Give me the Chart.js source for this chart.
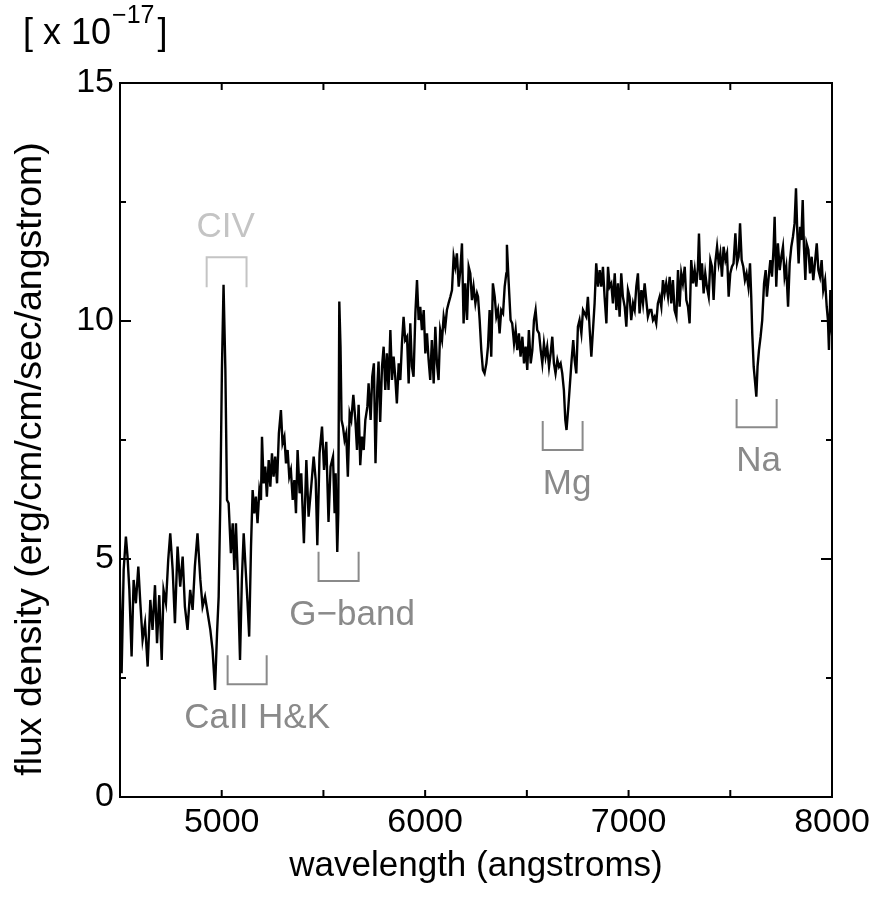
<!DOCTYPE html>
<html><head><meta charset="utf-8">
<script src="https://cdn.jsdelivr.net/npm/chart.js@4.4.0/dist/chart.umd.min.js"></script>
<style>html,body{margin:0;padding:0;background:#fff;}canvas{display:block;}</style>
</head><body>
<canvas id="c" width="878" height="903"></canvas>
<script>
// ---- data (wavelength in angstroms, flux density in 1e-17 erg/cm/cm/sec/angstrom) ----
const wavelengthBlue = [
 4496,4508,4518,4529,4537,4546,4557,4567,4578,4590,
 4600,4611,4623,4636,4649,4660,4672,4682,4693,4705,
 4714,4726,4737,4747,4759,4770,4783,4796,4808,4819,
 4832,4845,4857,4868,4881,4895,4906,4918,4931,4944,
 4955,4967,4977,4985,4993,5001,5009,5018,5026,5034,
 5045,5054,5062,5070,5078,5090,5099,5108,5116,5127,
 5135,5144,5152,5160,5168,5176,5185,5193,5198,5206,
 5214,5222,5231,5239,5247,5255,5263,5272,5281,5291,
 5299,5308,5316,5324,5332,5340,5349,5357,5365,5373];
const fluxBlue = [
 5.26,2.60,4.77,5.47,5.05,4.35,2.95,4.56,4.07,4.84,
 4.07,3.30,3.65,2.74,4.14,3.51,4.45,3.23,4.24,2.88,
 4.35,4.07,4.98,5.54,4.77,3.65,5.26,4.42,5.05,4.00,
 3.51,4.35,3.93,4.84,5.54,4.56,4.00,4.21,3.86,3.51,
 3.09,2.25,3.44,4.21,6.17,8.97,10.76,8.97,6.24,6.17,
 5.12,5.75,4.77,5.75,4.77,2.88,4.56,5.54,4.91,4.07,
 3.37,5.26,6.45,5.96,6.31,5.75,6.45,6.24,7.57,6.59,
 6.94,6.31,7.08,6.52,7.22,6.73,7.15,6.59,7.64,8.13,
 7.43,7.57,7.01,7.29,6.73,6.87,6.24,6.66,5.96,7.29];

const wavelengthGreen = [
 5383,5391,5404,5416,5427,5440,5452,5462,5470,5481,
 5493,5503,5514,5525,5535,5547,5555,5560,5568,5573,
 5578,5584,5589,5596,5604,5612,5620,5629,5637,5647,
 5657,5665,5673,5681,5689,5698,5706,5716,5722,5732,
 5740,5748,5756,5765,5771,5779,5788,5796,5804,5812,
 5820,5829,5837,5845,5853,5861,5870,5878,5886,5894,
 5902,5911,5919,5927,5935,5943,5952,5960,5968,5976,
 5984,5993,6001,6009,6017,6025,6033,6042,6050,6058,
 6066,6074,6083,6091,6099,6107,6115,6124,6132,6140,
 6148,6156,6165,6173,6181,6189,6197,6206,6214,6222,
 6230,6238,6247,6255];
const fluxGreen = [
 6.38,6.80,5.33,7.08,5.89,6.52,7.15,6.66,5.29,7.22,
 7.78,6.87,7.46,5.78,6.94,7.15,5.96,6.80,5.15,5.96,
 10.41,9.46,7.92,7.78,7.50,7.64,6.73,8.06,7.92,8.45,
 7.92,7.29,8.24,6.97,7.57,7.29,7.92,8.20,8.69,7.92,
 8.83,9.11,7.01,8.62,9.15,7.88,9.04,9.46,8.55,9.32,
 8.55,9.81,8.76,9.25,8.83,8.27,9.11,8.76,9.53,10.09,
 9.60,9.67,8.69,9.95,9.04,8.83,10.16,10.86,10.02,10.30,
 9.81,10.23,9.32,9.74,9.18,8.76,9.60,8.69,9.88,9.11,
 8.76,9.81,9.60,10.09,9.88,10.23,10.37,10.51,10.65,11.35,
 11.14,11.42,10.72,11.07,11.63,9.95,10.79,10.02,11.14,11.00,
 10.44,10.72,10.37,10.58];

const wavelengthOrange = [
 6260,6268,6276,6284,6292,6301,6309,6317,6325,6333,
 6342,6350,6358,6366,6374,6383,6391,6399,6402,6410,
 6420,6428,6437,6445,6453,6461,6469,6478,6486,6494,
 6502,6510,6519,6527,6535,6543,6551,6560,6568,6576,
 6584,6592,6600,6609,6617,6625,6633,6641,6650,6658,
 6666,6674,6682,6689,6695,6704,6712,6720,6728,6735,
 6743,6751,6759,6768,6776,6784,6792,6800,6809,6817,
 6825,6833,6841,6850,6858,6866,6874,6882,6891,6899,
 6907,6915,6923,6932,6940,6948,6956,6964,6972,6981,
 6989,6997,7005,7013,7022,7030,7038,7046,7054,7063,
 7071,7079,7087,7095,7104];
const fluxOrange = [
 10.51,10.02,9.39,8.97,8.90,9.11,9.46,10.23,9.25,10.79,
 10.51,10.09,10.23,9.74,10.23,10.16,10.72,11.00,11.60,10.86,
 10.02,9.95,9.53,9.81,9.39,9.74,9.25,9.67,9.11,9.46,
 8.97,9.81,9.11,9.39,10.02,10.23,9.81,9.74,9.39,9.11,
 9.53,9.25,9.46,9.04,9.32,9.67,9.11,8.90,9.18,9.04,
 9.11,8.90,8.55,7.92,7.71,8.20,8.69,9.18,9.60,9.18,
 8.90,9.88,10.02,9.74,10.23,10.16,10.09,10.51,9.81,9.25,
 9.81,10.37,11.21,10.72,11.07,10.72,11.14,10.51,9.95,11.14,
 10.72,10.79,10.37,11.00,10.23,10.79,10.09,11.00,10.51,10.30,
 9.88,10.65,10.51,10.02,10.37,10.23,10.72,11.00,10.16,10.65,
 10.37,10.79,10.44,10.09,10.23];

const wavelengthRed = [
 7112,7120,7128,7136,7144,7153,7161,7169,7177,7185,
 7194,7202,7210,7218,7226,7235,7243,7251,7259,7267,
 7276,7284,7292,7300,7308,7317,7325,7333,7341,7346,
 7353,7361,7369,7377,7385,7394,7402,7410,7418,7426,
 7435,7443,7451,7459,7467,7476,7484,7492,7500,7508,
 7516,7525,7533,7541,7548,7556,7564,7572,7580,7589,
 7597,7603,7608,7615,7621,7628,7634,7641,7649,7657,
 7666,7674,7680,7689,7697,7705,7713,7718,7726,7734,
 7743,7751,7759,7767,7775,7784,7792,7800,7808,7816,
 7823,7829,7836,7843,7849,7856,7862,7869,7875,7884,
 7892,7900,7908,7916,7925,7933,7941,7949,7957,7966,
 7974,7980,7985,7992,7998,8005];
const fluxRed = [
 10.23,10.02,10.09,9.95,10.37,10.51,10.30,10.86,10.58,10.79,
 10.51,10.93,10.37,10.86,10.23,10.09,11.07,10.30,11.00,10.79,
 11.14,10.44,10.30,9.95,11.28,10.79,11.07,10.72,11.14,11.84,
 10.86,11.21,10.58,11.00,10.72,10.51,11.28,11.14,10.44,11.21,
 11.56,11.21,11.42,10.93,11.56,11.28,11.42,10.51,11.00,11.14,
 11.21,11.84,11.21,11.35,12.05,11.28,11.14,10.86,11.00,10.72,
 11.21,10.51,9.74,9.04,8.76,8.41,9.04,9.39,9.67,10.02,
 10.79,11.07,10.51,10.93,11.28,10.93,11.56,12.19,10.72,11.63,
 11.07,11.35,11.56,10.93,11.14,10.30,11.21,11.56,11.77,12.05,
 12.79,11.91,11.21,11.98,11.70,12.54,11.56,10.86,11.63,11.49,
 11.00,11.35,10.86,11.21,11.63,11.07,10.93,11.28,10.65,10.86,
 10.30,10.02,9.39,10.65,9.81,9.50];

// tick labels
const xTickLabels = ['5000','6000','7000','8000'];
const yTickLabels = ['0','5','10','15'];

// spectral features: name, wavelength range, bracket flux level, leg-end flux level, label wavelength
const featureNames  = ['CIV','CaII H&K','G\u2212band','Mg','Na'];
const featureFrom   = [4926, 5029, 5476, 6578, 7531];
const featureTo     = [5122, 5221, 5673, 6774, 7728];
const featureBar    = [11.34, 2.37, 4.54, 7.29, 7.77];
const featureLegEnd = [10.71, 2.98, 5.15, 7.90, 8.36];
const featureLabelAt= [5019, 5174, 5641, 6698, 7639];

// ---- build ----
const wavelength = wavelengthBlue.concat(wavelengthGreen, wavelengthOrange, wavelengthRed);
const flux = fluxBlue.concat(fluxGreen, fluxOrange, fluxRed);
const points = wavelength.map((w, i) => ({x: w, y: flux[i]}));

const FONT = "'Liberation Sans', Arial, Helvetica, sans-serif";
const Y_TITLE = 'flux density (erg/cm/cm/sec/angstrom)';

const decor = {
  id: 'decor',
  afterDatasetsDraw(chart) {
    const {ctx, chartArea: a, scales: {x, y}} = chart;
    ctx.save();
    // feature brackets and labels
    ctx.lineWidth = 2;
    ctx.font = '35px ' + FONT;
    ctx.textAlign = 'center';
    ctx.textBaseline = 'alphabetic';
    featureNames.forEach((name, i) => {
      const col = i === 0 ? '#c4c4c4' : '#8a8a8a';
      const x0 = x.getPixelForValue(featureFrom[i]);
      const x1 = x.getPixelForValue(featureTo[i]);
      const yb = y.getPixelForValue(featureBar[i]);
      const ye = y.getPixelForValue(featureLegEnd[i]);
      ctx.strokeStyle = col;
      ctx.beginPath();
      ctx.moveTo(x0, ye); ctx.lineTo(x0, yb); ctx.lineTo(x1, yb); ctx.lineTo(x1, ye);
      ctx.stroke();
      ctx.fillStyle = col;
      const above = featureLegEnd[i] < featureBar[i];
      const ty = above ? yb - 20 : yb + 44;
      ctx.fillText(name, x.getPixelForValue(featureLabelAt[i]), ty);
    });
    // frame
    ctx.strokeStyle = '#000';
    ctx.lineWidth = 2;
    ctx.strokeRect(a.left, a.top, a.right - a.left, a.bottom - a.top);
    // inward ticks on all four sides
    ctx.beginPath();
    x.ticks.forEach(t => {
      const px = x.getPixelForValue(t.value);
      const len = 7;
      ctx.moveTo(px, a.bottom); ctx.lineTo(px, a.bottom - len);
      ctx.moveTo(px, a.top); ctx.lineTo(px, a.top + len);
    });
    y.ticks.forEach(t => {
      const py = y.getPixelForValue(t.value);
      const len = (t.value % 5 === 0) ? 11 : 6;
      ctx.moveTo(a.left, py); ctx.lineTo(a.left + len, py);
      ctx.moveTo(a.right, py); ctx.lineTo(a.right - len, py);
    });
    ctx.stroke();
    ctx.restore();
  },
  afterDraw(chart) {
    const ctx = chart.ctx;
    ctx.save();
    ctx.fillStyle = '#000';
    // y-axis title
    ctx.save();
    ctx.translate(31, 459);
    ctx.rotate(-Math.PI / 2);
    ctx.textAlign = 'center';
    ctx.textBaseline = 'middle';
    ctx.font = '37.5px ' + FONT;
    ctx.fillText(Y_TITLE, 0, 0);
    ctx.restore();
    // exponent note
    ctx.textAlign = 'left';
    ctx.textBaseline = 'alphabetic';
    ctx.font = '36px ' + FONT;
    let cx = 23;
    const base = '[ x 10';
    ctx.fillText(base, cx, 44);
    cx += ctx.measureText(base).width + 1;
    ctx.font = '25px ' + FONT;
    const sup = '\u221217';
    ctx.fillText(sup, cx, 23);
    cx += ctx.measureText(sup).width + 3;
    ctx.font = '36px ' + FONT;
    ctx.fillText(']', cx, 44);
    ctx.restore();
  }
};

new Chart(document.getElementById('c'), {
  type: 'line',
  data: {
    datasets: [{
      data: points,
      borderColor: '#000',
      borderWidth: 2.4,
      pointRadius: 0,
      tension: 0,
      fill: false
    }]
  },
  options: {
    responsive: false,
    animation: false,
    events: [],
    layout: {padding: {top: 83, right: 46, left: 0, bottom: 0}},
    plugins: {legend: {display: false}, tooltip: {enabled: false}},
    scales: {
      x: {
        type: 'linear', min: 4500, max: 8000,
        grid: {display: false, drawTicks: false},
        border: {display: false},
        ticks: {
          stepSize: 500, autoSkip: false, maxRotation: 0, padding: 5, color: '#000',
          font: {size: 34, family: FONT},
          callback: v => xTickLabels.includes(String(v)) ? String(v) : ''
        },
        title: {display: true, text: 'wavelength (angstroms)', color: '#000',
                font: {size: 35, family: FONT}, padding: {top: 0, bottom: 16}},
        afterFit(s) { s.height = 106; }
      },
      y: {
        min: 0, max: 15,
        grid: {display: false, drawTicks: false},
        border: {display: false},
        ticks: {
          stepSize: 2.5, autoSkip: false, padding: 6, color: '#000',
          font: {size: 34, family: FONT},
          callback: v => yTickLabels.includes(String(v)) ? String(v) : ''
        },
        title: {display: false},
        afterFit(s) { s.width = 120; }
      }
    }
  },
  plugins: [decor]
});
</script>
</body></html>
